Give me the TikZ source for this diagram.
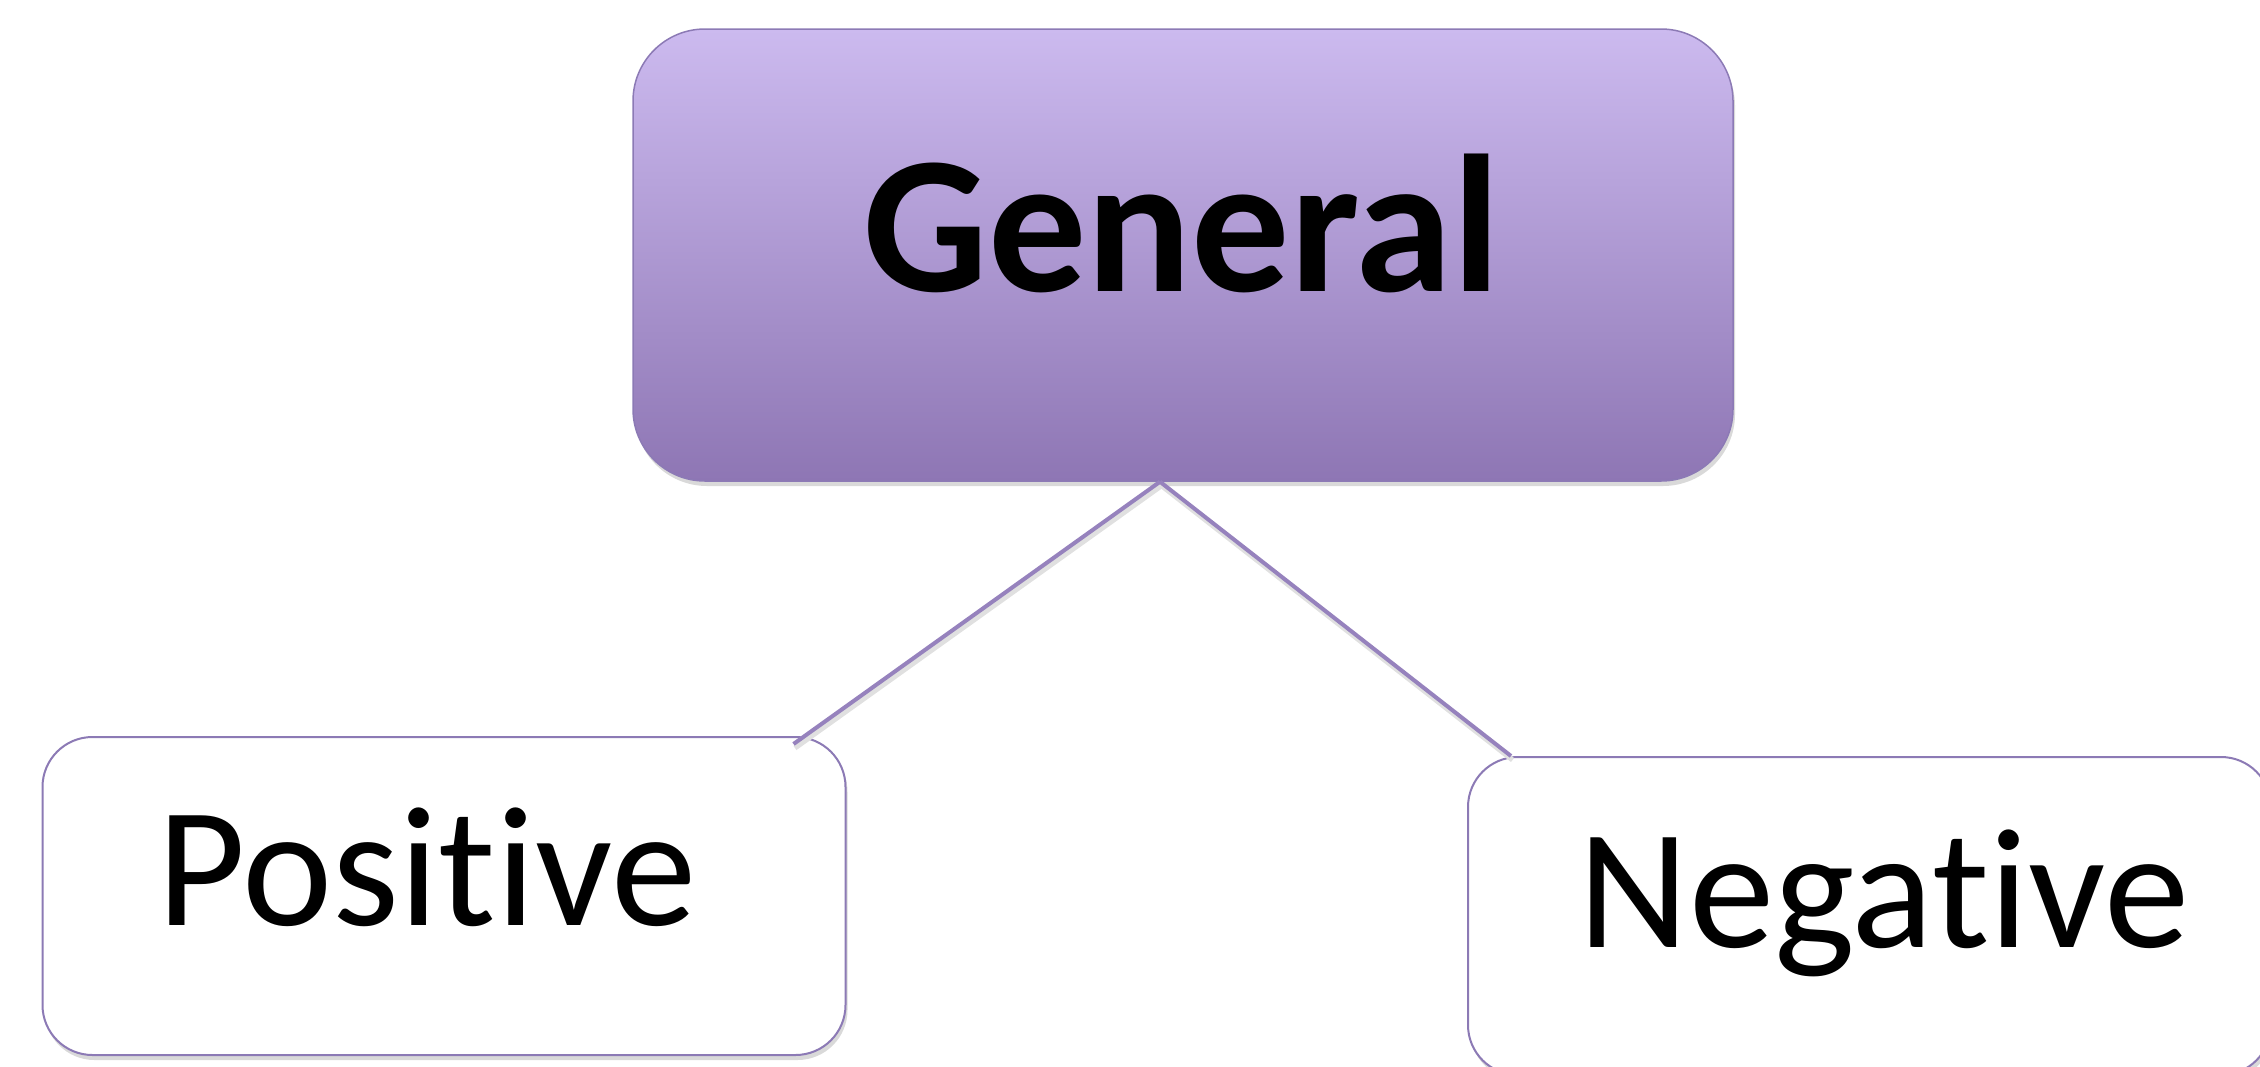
\documentclass[tikz,border=0pt]{standalone}
\usepackage{fontspec}
\setmainfont{Carlito}[Ligatures=NoCommon]
\usetikzlibrary{shadows,calc}
\definecolor{gtop}{HTML}{CCBAEF}
\definecolor{gbot}{HTML}{8E76B4}
\definecolor{edgec}{HTML}{8C7AB5}
\definecolor{linec}{HTML}{9682BD}
\tikzset{
  softshadow/.style={drop shadow={shadow xshift=2pt,shadow yshift=-5pt,opacity=0.25,fill=black!60}},
  genbox/.style={rectangle,rounded corners=72pt,minimum width=1100pt,minimum height=452pt,
    draw=edgec,line width=1.5pt,top color=gtop,bottom color=gbot,softshadow,inner sep=0pt},
  leafbox/.style={rectangle,rounded corners=50pt,minimum width=803pt,minimum height=318pt,
    draw=edgec,line width=2pt,fill=white,softshadow,inner sep=0pt},
  conn/.style={draw=linec,line width=4pt,line cap=butt,
    preaction={draw=black!12,line width=5pt,transform canvas={xshift=1.5pt,yshift=-4pt}}},
  txt/.style={inner sep=0pt,anchor=base}
}
\begin{document}
\begin{tikzpicture}[x=1pt,y=-1pt]
\useasboundingbox (0,0) rectangle (2260,1066);
\node[genbox] (gen) at (1183,255) {};
\node[leafbox] (pos) at (444,896) {};
\node[leafbox] (neg) at (1869.5,916) {};
\coordinate (apex) at ($(gen.south)+(-23,0)$);
\coordinate (pend) at ($(pos.north east)+(-53,8)$);
\coordinate (nend) at ($(neg.north west)+(44,0)$);
\draw[conn] (apex) -- (pend);
\draw[conn] (apex) -- (nend);
\node[txt,font=\fontsize{196}{200}\selectfont\bfseries] (gentext) at (1182,291) {General};
\node[txt,font=\fontsize{171}{180}\selectfont] (postext) at (427,925) {Positive};
\node[txt,font=\fontsize{171}{180}\selectfont] (negtext) at (1884,947) {Negative};
\end{tikzpicture}
\end{document}
